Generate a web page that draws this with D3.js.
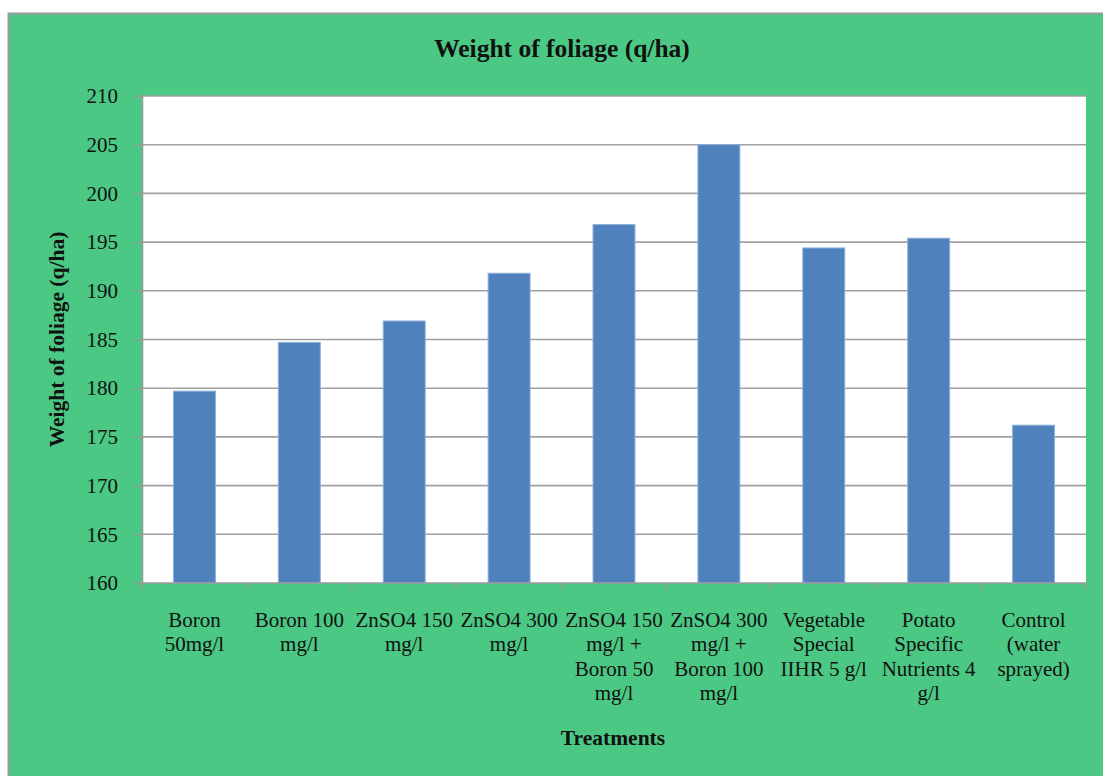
<!DOCTYPE html>
<html>
<head>
<meta charset="utf-8">
<script src="https://cdn.jsdelivr.net/npm/d3@7"></script>
<style>
  html, body { margin: 0; padding: 0; background: #ffffff; }
  svg { display: block; }
  text { font-family: "Liberation Serif", "Times New Roman", serif; fill: #111; }
</style>
</head>
<body>
<svg id="chart" width="1103" height="776"></svg>
<script>
// Foliage weight (q/ha) per foliar treatment
const categories = [
  ["Boron", "50mg/l"],
  ["Boron 100", "mg/l"],
  ["ZnSO4 150", "mg/l"],
  ["ZnSO4 300", "mg/l"],
  ["ZnSO4 150", "mg/l +", "Boron 50", "mg/l"],
  ["ZnSO4 300", "mg/l +", "Boron 100", "mg/l"],
  ["Vegetable", "Special", "IIHR 5 g/l"],
  ["Potato", "Specific", "Nutrients 4", "g/l"],
  ["Control", "(water", "sprayed)"]
];
const foliageWeight = [179.7, 184.7, 186.9, 191.8, 196.8, 205.0, 194.4, 195.4, 176.2];
const yTicks = [160, 165, 170, 175, 180, 185, 190, 195, 200, 205, 210];

const chartTitle = "Weight of foliage (q/ha)";
const yTitle = "Weight of foliage (q/ha)";
const xTitle = "Treatments";

const svg = d3.select("#chart");
const W = 1103, H = 776;

// chart area background with frame
svg.append("rect")
  .attr("x", 8.5).attr("y", 13.5)
  .attr("width", W).attr("height", H)
  .attr("fill", "#4BC884")
  .attr("stroke", "#9a9a9a").attr("stroke-width", 2);

const plot = { left: 142, top: 96, right: 1086, bottom: 583 };

svg.append("rect")
  .attr("x", plot.left).attr("y", plot.top)
  .attr("width", plot.right - plot.left).attr("height", plot.bottom - plot.top)
  .attr("fill", "#ffffff");

const keys = categories.map((c, i) => i);
const x = d3.scaleBand().domain(keys).range([plot.left, plot.right]).paddingInner(0.6).paddingOuter(0.3);
const xCat = d3.scaleBand().domain(keys).range([plot.left, plot.right]);
const y = d3.scaleLinear().domain([160, 210]).range([plot.bottom, plot.top]);

// horizontal gridlines
svg.append("g")
  .selectAll("line")
  .data(yTicks.filter(t => t > 160))
  .join("line")
  .attr("x1", plot.left).attr("x2", plot.right)
  .attr("y1", d => y(d)).attr("y2", d => y(d))
  .attr("stroke", "#a0a0a0").attr("stroke-width", 1.6);

// bars
svg.append("g")
  .selectAll("rect")
  .data(foliageWeight)
  .join("rect")
  .attr("x", (d, i) => x(i))
  .attr("width", x.bandwidth())
  .attr("y", d => y(d))
  .attr("height", d => y(160) - y(d))
  .attr("fill", "#4F81BD")
  .attr("stroke", "#8fb0da").attr("stroke-width", 1);

// y axis
const yAxis = svg.append("g")
  .attr("transform", `translate(${plot.left},0)`)
  .call(d3.axisLeft(y).tickValues(yTicks).tickSize(7).tickPadding(17).tickFormat(d3.format("d")));
yAxis.select(".domain").attr("stroke", "#9a9a9a").attr("stroke-width", 1.6);
yAxis.selectAll(".tick line").attr("stroke", "#9a9a9a").attr("stroke-width", 1.4);
yAxis.selectAll(".tick text")
  .attr("font-family", "Liberation Serif, serif")
  .attr("font-size", 21).attr("fill", "#111");

// x axis line with ticks at category boundaries
svg.append("line")
  .attr("x1", plot.left).attr("x2", plot.right)
  .attr("y1", plot.bottom).attr("y2", plot.bottom)
  .attr("stroke", "#9a9a9a").attr("stroke-width", 1.6);
const bounds = keys.map(k => xCat(k)).concat([plot.right]);
svg.append("g")
  .selectAll("line")
  .data(bounds)
  .join("line")
  .attr("x1", d => d).attr("x2", d => d)
  .attr("y1", plot.bottom).attr("y2", plot.bottom + 7)
  .attr("stroke", "#9a9a9a").attr("stroke-width", 1.4);

// category labels
const catG = svg.append("g");
categories.forEach((lines, i) => {
  const t = catG.append("text")
    .attr("text-anchor", "middle")
    .attr("font-size", 21);
  lines.forEach((ln, j) => {
    t.append("tspan")
      .attr("x", xCat(i) + xCat.bandwidth() / 2)
      .attr("y", 627 + j * 24.4)
      .text(ln);
  });
});

// titles
svg.append("text")
  .attr("x", 562).attr("y", 57)
  .attr("text-anchor", "middle")
  .attr("font-size", 25.5).attr("font-weight", "bold")
  .text(chartTitle);

svg.append("text")
  .attr("transform", `translate(64,${(plot.top + plot.bottom) / 2}) rotate(-90)`)
  .attr("text-anchor", "middle")
  .attr("font-size", 21.5).attr("font-weight", "bold")
  .text(yTitle);

svg.append("text")
  .attr("x", 613).attr("y", 745)
  .attr("text-anchor", "middle")
  .attr("font-size", 21.5).attr("font-weight", "bold")
  .text(xTitle);
</script>
</body>
</html>
